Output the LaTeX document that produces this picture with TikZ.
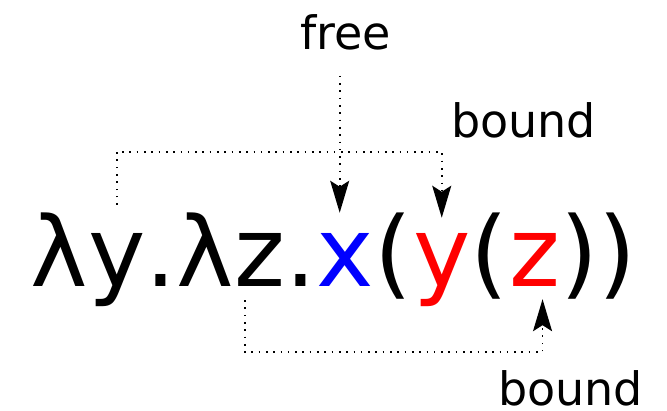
\documentclass[tikz,border=0pt]{standalone}
\usepackage{fontspec}
\setmainfont{DejaVu Sans}
\usepackage{xcolor}
\usetikzlibrary{arrows.meta,positioning}

\tikzset{
  term/.style={inner sep=0pt,anchor=base west,font=\fontsize{97}{110}\selectfont},
  note/.style={inner sep=0pt,anchor=base,font=\fontsize{46}{55}\selectfont},
  link/.style={line width=1.6pt,dash pattern=on 1.6pt off 5.7pt},
}

\begin{document}
\begin{tikzpicture}[x=1pt,y=1pt,>={Stealth[length=32pt,width=19pt,inset=6pt]}]
  \useasboundingbox (0,0) rectangle (667,411);
  % the term
  \node[term] (lam1) at (30,124) {λ};
  \node[term] (y1) at (lam1.base east) {y};
  \node[term] (dot1) at (y1.base east) {.λ};
  \node[term] (z1) at (dot1.base east) {z};
  \node[term] (dot2) at (z1.base east) {.};
  \node[term,text=blue] (x) at (dot2.base east) {x};
  \node[term] (par1) at (x.base east) {(};
  \node[term,text=red] (y2) at (par1.base east) {y};
  \node[term] (par2) at (y2.base east) {(};
  \node[term,text=red] (z2) at (par2.base east) {z};
  \node[term] (par3) at (z2.base east) {))};
  % labels
  \node[note] (free) at (345.5,361) {free};
  \node[note] (boundy) at (523.5,273) {bound};
  \node[note] (boundz) at (570.5,5) {bound};
  % connectors
  \draw[link,->] ([xshift=-6pt,yshift=-25pt]free.south -| x.north) -- ([xshift=-6pt,yshift=21pt]x.north);
  \draw[link,->] ([yshift=29pt]y1.north) -- ++(0,53) -| ([yshift=16pt]y2.north);
  \draw[link,->] ([xshift=-15pt,yshift=-13pt]z1.south) -- ++(0,-52) -| ([xshift=8pt,yshift=-12pt]z2.south);
\end{tikzpicture}
\end{document}
